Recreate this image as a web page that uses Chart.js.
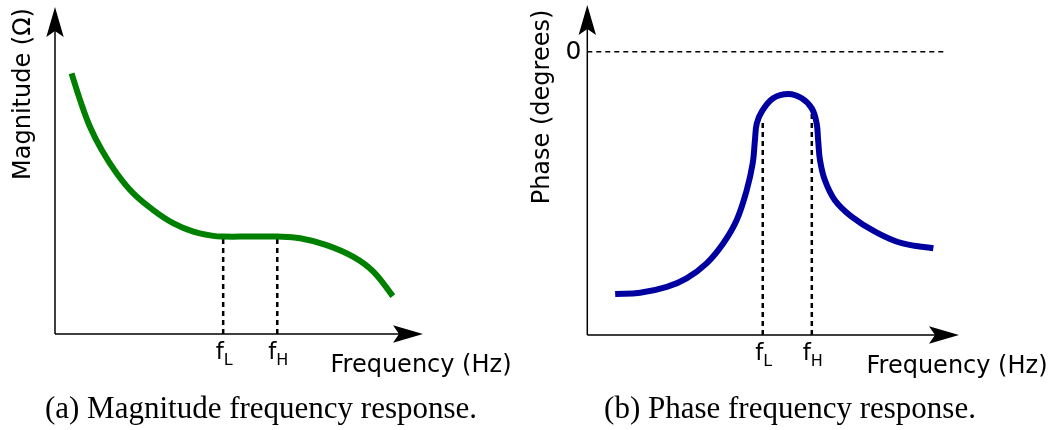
<!DOCTYPE html>
<html>
<head>
<meta charset="utf-8">
<script src="https://cdn.jsdelivr.net/npm/chart.js@4/dist/chart.umd.min.js"></script>
<style>
  body { margin: 0; background: #fff; width: 1055px; height: 430px; position: relative; overflow: hidden; }
  canvas { position: absolute; top: 0; }
  #magnitude-chart { left: 0; }
  #phase-chart { left: 527px; }
  .caption {
    position: absolute; width: 520px; text-align: center; white-space: nowrap;
    font-family: "Liberation Serif", serif; font-size: 31px; line-height: 31px; color: #000;
  }
</style>
</head>
<body>
<canvas id="magnitude-chart" width="527" height="430"></canvas>
<canvas id="phase-chart" width="528" height="430"></canvas>
<div class="caption" style="left:1px; top:392px">(a) Magnitude frequency response.</div>
<div class="caption" style="left:530px; top:392px">(b) Phase frequency response.</div>
<script>
// magnitude curve (arbitrary units, 0..100 on both axes)
var magFreq      = [4.5, 6.8, 9.5, 12.7, 16.8, 21.3, 26.7, 32.1, 37.6, 43.0, 45.7, 53.0, 60.4, 66.6, 73.8, 81.1, 86.5, 91.8];
var magnitude    = [79.7, 71.6, 63.4, 56.3, 49.1, 43.0, 37.9, 33.9, 31.3, 30.0, 29.8, 29.8, 29.8, 29.3, 27.2, 23.6, 19.1, 11.6];

// phase curve (degrees, 0 at the top reference line)
var phaseFreq    = [7.5, 14.2, 21.4, 26.7, 32.1, 36.6, 40.2, 42.9, 44.5, 45.1, 45.6, 46.9, 50.0, 54.1,
                    57.7, 60.4, 61.7, 62.1, 62.6, 63.9, 66.6, 71.1, 77.4, 84.6, 93.1];
var phase        = [-85.5, -85.1, -83.0, -80.0, -74.7, -67.6, -59.4, -48.8, -39.4, -31.2, -25.3, -21.2, -16.4, -14.9,
                    -16.4, -20.0, -25.3, -31.2, -38.2, -45.3, -52.4, -58.2, -63.5, -67.6, -69.4];

// cutoff frequencies f_L and f_H
var cutoffNames  = ['L', 'H'];
var magCutoffX   = [45.7, 60.4];
var magCutoffY   = [29.8, 29.8];
var phaseCutoffX = [47.2, 60.4];
var phaseCutoffY = [-23.9, -21.7];

var phaseTicks   = [0];
var phaseZeroEnd = 96.1;

function zip(xs, ys) {
    return xs.map(function (x, i) { return { x: x, y: ys[i] }; });
}

function arrowHead(ctx, x, y, angle) {
    ctx.save();
    ctx.translate(x, y);
    ctx.rotate(angle);
    ctx.beginPath();
    ctx.moveTo(0, 0);
    ctx.lineTo(-30, -8.7);
    ctx.lineTo(-24, 0);
    ctx.lineTo(-30, 8.7);
    ctx.closePath();
    ctx.fill();
    ctx.restore();
}

// hand drawn style axes: arrows, titles, f_L / f_H labels
var sketchAxes = {
    id: 'sketchAxes',
    afterDatasetsDraw: function (chart, args, opts) {
        var ctx = chart.ctx, a = chart.chartArea;
        var xs = chart.scales.x, ys = chart.scales.y;
        ctx.save();
        ctx.strokeStyle = '#000';
        ctx.fillStyle = '#000';
        ctx.lineWidth = 1.5;
        ctx.beginPath();
        ctx.moveTo(a.left, a.bottom);
        ctx.lineTo(a.right - 24, a.bottom);
        ctx.moveTo(a.left, a.bottom);
        ctx.lineTo(a.left, a.top + 24);
        ctx.stroke();
        arrowHead(ctx, a.right, a.bottom, 0);
        arrowHead(ctx, a.left, a.top, -Math.PI / 2);

        // x title
        ctx.font = '24px "DejaVu Sans"';
        ctx.textAlign = 'center';
        ctx.textBaseline = 'alphabetic';
        ctx.fillText(opts.xTitle, a.right - 2, a.bottom + 38);

        // y title, rotated
        ctx.save();
        ctx.translate(opts.yTitleX, opts.yTitleY);
        ctx.rotate(-Math.PI / 2);
        ctx.fillText(opts.yTitle, 0, 0);
        ctx.restore();

        // cutoff labels f with subscript
        opts.cutoffs.forEach(function (xv, i) {
            var px = xs.getPixelForValue(xv);
            ctx.font = '23px "DejaVu Sans"';
            var wf = ctx.measureText('f').width;
            ctx.font = '16px "DejaVu Sans"';
            var wsub = ctx.measureText(cutoffNames[i]).width;
            var left = px + 1 - (wf + wsub) / 2;
            ctx.textAlign = 'left';
            ctx.font = '23px "DejaVu Sans"';
            ctx.fillText('f', left, a.bottom + 25);
            ctx.font = '16px "DejaVu Sans"';
            ctx.fillText(cutoffNames[i], left + wf, a.bottom + 31);
        });

        // y ticks
        (opts.yTicks || []).forEach(function (v) {
            ctx.font = '25px "DejaVu Sans"';
            ctx.textAlign = 'right';
            ctx.textBaseline = 'middle';
            ctx.fillText(String(v), a.left - 6, ys.getPixelForValue(v) + 1);
        });
        ctx.restore();
    }
};

function curveChart(id, datasets, yMin, yMax, padding, axes) {
    return new Chart(document.getElementById(id), {
        type: 'scatter',
        data: { datasets: datasets },
        options: {
            responsive: false,
            animation: false,
            events: [],
            layout: { padding: padding },
            plugins: {
                legend: { display: false },
                tooltip: { enabled: false },
                sketchAxes: axes
            },
            scales: {
                x: { type: 'linear', display: false, min: 0, max: 100 },
                y: { type: 'linear', display: false, min: yMin, max: yMax }
            }
        },
        plugins: [sketchAxes]
    });
}

function dashed(x0, y0, x1, y1, width) {
    return {
        data: [{ x: x0, y: y0 }, { x: x1, y: y1 }],
        showLine: true,
        borderColor: '#000',
        borderWidth: width,
        borderDash: [5, 4],
        pointRadius: 0
    };
}

var magSets = [{
    data: zip(magFreq, magnitude),
    showLine: true,
    borderColor: '#008000',
    borderWidth: 6,
    tension: 0.4,
    pointRadius: 0
}];
magCutoffX.forEach(function (x, i) { magSets.push(dashed(x, 0, x, magCutoffY[i], 2.5)); });

curveChart('magnitude-chart', magSets, 0, 100,
    { left: 55, right: 104, top: 7, bottom: 96 },
    { xTitle: 'Frequency (Hz)', yTitle: 'Magnitude (Ω)', yTitleX: 29.5, yTitleY: 94, cutoffs: magCutoffX });

var phaseSets = [{
    data: zip(phaseFreq, phase),
    showLine: true,
    borderColor: '#0000a0',
    borderWidth: 6,
    tension: 0.4,
    pointRadius: 0
}];
phaseCutoffX.forEach(function (x, i) { phaseSets.push(dashed(x, -100, x, phaseCutoffY[i], 2.5)); });
phaseSets.push(dashed(0, 0, phaseZeroEnd, 0, 1.5));

curveChart('phase-chart', phaseSets, -100, 16.5,
    { left: 60.3, right: 96, top: 5, bottom: 95 },
    { xTitle: 'Frequency (Hz)', yTitle: 'Phase (degrees)', yTitleX: 21.5, yTitleY: 107,
      cutoffs: phaseCutoffX, yTicks: phaseTicks });
</script>
</body>
</html>
